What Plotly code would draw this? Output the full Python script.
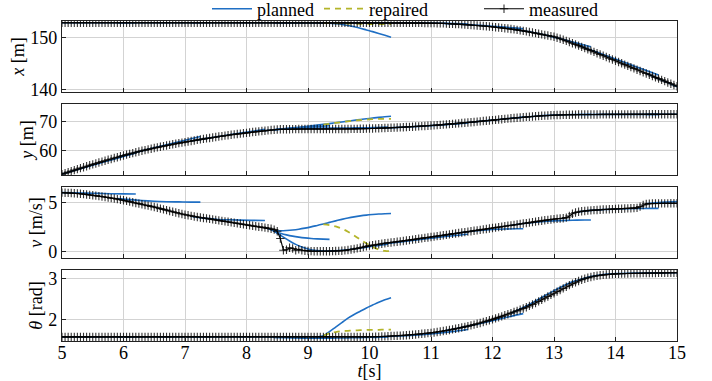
import numpy as np
import plotly.graph_objects as go
from plotly.subplots import make_subplots

# ---------------- data ----------------
meas_t = np.round(np.linspace(5.0, 15.0, 201), 2)

meas_x = [
    152.78, 152.78, 152.78, 152.78, 152.78, 152.78, 152.78, 152.78, 152.78, 152.78,
    152.78, 152.78, 152.78, 152.78, 152.78, 152.78, 152.78, 152.78, 152.78, 152.78,
    152.78, 152.78, 152.78, 152.78, 152.78, 152.78, 152.78, 152.78, 152.78, 152.78,
    152.78, 152.78, 152.78, 152.78, 152.78, 152.78, 152.78, 152.78, 152.78, 152.78,
    152.78, 152.78, 152.78, 152.78, 152.78, 152.78, 152.78, 152.78, 152.78, 152.78,
    152.78, 152.78, 152.78, 152.78, 152.78, 152.78, 152.78, 152.78, 152.78, 152.78,
    152.78, 152.78, 152.78, 152.78, 152.78, 152.78, 152.78, 152.78, 152.78, 152.78,
    152.78, 152.78, 152.78, 152.78, 152.78, 152.78, 152.78, 152.78, 152.78, 152.78,
    152.78, 152.78, 152.78, 152.78, 152.78, 152.78, 152.78, 152.78, 152.78, 152.78,
    152.78, 152.78, 152.78, 152.78, 152.78, 152.78, 152.78, 152.78, 152.78, 152.78,
    152.78, 152.78, 152.78, 152.78, 152.78, 152.78, 152.78, 152.78, 152.78, 152.78,
    152.78, 152.78, 152.77, 152.77, 152.76, 152.76, 152.75, 152.74, 152.73, 152.72,
    152.71, 152.70, 152.68, 152.66, 152.64, 152.62, 152.59, 152.56, 152.53, 152.50,
    152.46, 152.42, 152.38, 152.34, 152.29, 152.24, 152.19, 152.14, 152.09, 152.04,
    151.98, 151.92, 151.86, 151.80, 151.73, 151.66, 151.58, 151.50, 151.41, 151.32,
    151.22, 151.12, 151.01, 150.90, 150.79, 150.67, 150.56, 150.45, 150.34, 150.22,
    150.10, 149.92, 149.73, 149.53, 149.32, 149.10, 148.88, 148.65, 148.42, 148.18,
    147.94, 147.70, 147.46, 147.22, 146.98, 146.74, 146.50, 146.26, 146.02, 145.78,
    145.54, 145.30, 145.06, 144.81, 144.57, 144.33, 144.09, 143.84, 143.60, 143.36,
    143.12, 142.88, 142.63, 142.39, 142.15, 141.91, 141.66, 141.42, 141.18, 140.94,
    140.70,
]

meas_y = [
    52.20, 52.54, 52.88, 53.21, 53.54, 53.87, 54.20, 54.52, 54.84, 55.16,
    55.48, 55.79, 56.10, 56.41, 56.71, 57.01, 57.31, 57.61, 57.90, 58.19,
    58.48, 58.75, 59.02, 59.28, 59.54, 59.79, 60.04, 60.28, 60.52, 60.75,
    60.98, 61.20, 61.42, 61.63, 61.84, 62.04, 62.24, 62.43, 62.62, 62.80,
    62.98, 63.17, 63.35, 63.53, 63.71, 63.88, 64.05, 64.22, 64.38, 64.54,
    64.70, 64.85, 65.00, 65.15, 65.29, 65.43, 65.57, 65.70, 65.83, 65.96,
    66.09, 66.22, 66.35, 66.47, 66.59, 66.71, 66.82, 66.93, 67.04, 67.14,
    67.23, 67.28, 67.30, 67.31, 67.32, 67.34, 67.35, 67.36, 67.37, 67.37,
    67.37, 67.37, 67.37, 67.37, 67.37, 67.37, 67.37, 67.37, 67.37, 67.37,
    67.38, 67.38, 67.39, 67.40, 67.41, 67.42, 67.44, 67.45, 67.47, 67.50,
    67.53, 67.56, 67.59, 67.63, 67.67, 67.71, 67.75, 67.80, 67.84, 67.89,
    67.94, 67.99, 68.05, 68.10, 68.16, 68.22, 68.28, 68.35, 68.41, 68.48,
    68.55, 68.62, 68.70, 68.78, 68.86, 68.94, 69.02, 69.11, 69.20, 69.29,
    69.38, 69.47, 69.57, 69.66, 69.76, 69.86, 69.96, 70.06, 70.16, 70.26,
    70.36, 70.47, 70.57, 70.68, 70.78, 70.88, 70.98, 71.08, 71.18, 71.27,
    71.36, 71.45, 71.53, 71.61, 71.68, 71.75, 71.82, 71.88, 71.94, 71.99,
    72.04, 72.08, 72.12, 72.15, 72.18, 72.20, 72.22, 72.24, 72.25, 72.26,
    72.27, 72.28, 72.28, 72.29, 72.29, 72.30, 72.30, 72.30, 72.30, 72.31,
    72.31, 72.31, 72.31, 72.32, 72.32, 72.32, 72.32, 72.32, 72.32, 72.33,
    72.33, 72.33, 72.33, 72.33, 72.33, 72.33, 72.33, 72.33, 72.33, 72.33,
    72.33,
]

meas_v = [
    6.02, 6.01, 6.00, 5.98, 5.96, 5.93, 5.90, 5.87, 5.83, 5.79,
    5.75, 5.71, 5.66, 5.62, 5.57, 5.52, 5.46, 5.41, 5.35, 5.29,
    5.23, 5.17, 5.10, 5.03, 4.96, 4.89, 4.82, 4.75, 4.68, 4.61,
    4.54, 4.46, 4.38, 4.30, 4.22, 4.14, 4.06, 3.98, 3.90, 3.82,
    3.75, 3.69, 3.63, 3.57, 3.52, 3.47, 3.42, 3.37, 3.32, 3.27,
    3.22, 3.17, 3.12, 3.07, 3.02, 2.97, 2.92, 2.87, 2.82, 2.77,
    2.72, 2.67, 2.62, 2.57, 2.52, 2.47, 2.42, 2.37, 2.30, 2.22,
    2.05, 1.30, 0.10, 0.15, 0.35, 0.28, 0.10, 0.20, 0.10, 0.05,
    0.02, 0.01, 0.00, 0.00, 0.00, 0.00, 0.00, 0.00, 0.01, 0.02,
    0.03, 0.05, 0.08, 0.12, 0.17, 0.23, 0.29, 0.36, 0.43, 0.50,
    0.57, 0.62, 0.67, 0.72, 0.77, 0.81, 0.85, 0.89, 0.93, 0.97,
    1.01, 1.05, 1.10, 1.14, 1.19, 1.23, 1.28, 1.32, 1.37, 1.41,
    1.46, 1.50, 1.55, 1.59, 1.64, 1.68, 1.73, 1.78, 1.82, 1.87,
    1.92, 1.96, 2.01, 2.05, 2.10, 2.14, 2.19, 2.24, 2.28, 2.33,
    2.38, 2.42, 2.47, 2.51, 2.56, 2.61, 2.65, 2.70, 2.75, 2.80,
    2.85, 2.89, 2.94, 2.99, 3.04, 3.09, 3.13, 3.18, 3.22, 3.26,
    3.30, 3.33, 3.36, 3.39, 3.45, 3.62, 3.85, 3.98, 4.05, 4.10,
    4.14, 4.17, 4.20, 4.22, 4.24, 4.26, 4.28, 4.30, 4.31, 4.33,
    4.34, 4.36, 4.37, 4.39, 4.40, 4.42, 4.43, 4.45, 4.58, 4.75,
    4.86, 4.89, 4.90, 4.91, 4.91, 4.92, 4.92, 4.92, 4.93, 4.93,
    4.93,
]

meas_th = [
    1.57, 1.57, 1.57, 1.57, 1.57, 1.57, 1.57, 1.57, 1.57, 1.57,
    1.57, 1.57, 1.57, 1.57, 1.57, 1.57, 1.57, 1.57, 1.57, 1.57,
    1.57, 1.57, 1.57, 1.57, 1.57, 1.57, 1.57, 1.57, 1.57, 1.57,
    1.57, 1.57, 1.57, 1.57, 1.57, 1.57, 1.57, 1.57, 1.57, 1.57,
    1.57, 1.57, 1.57, 1.57, 1.57, 1.57, 1.57, 1.57, 1.57, 1.57,
    1.57, 1.57, 1.57, 1.57, 1.57, 1.57, 1.57, 1.57, 1.57, 1.57,
    1.57, 1.57, 1.57, 1.57, 1.57, 1.57, 1.57, 1.57, 1.57, 1.57,
    1.57, 1.57, 1.57, 1.57, 1.57, 1.57, 1.57, 1.57, 1.57, 1.57,
    1.57, 1.57, 1.57, 1.57, 1.57, 1.57, 1.57, 1.57, 1.57, 1.57,
    1.57, 1.57, 1.57, 1.57, 1.57, 1.57, 1.57, 1.57, 1.57, 1.57,
    1.570, 1.570, 1.575, 1.578, 1.580, 1.584, 1.588, 1.591, 1.595, 1.598,
    1.602, 1.606, 1.611, 1.617, 1.623, 1.630, 1.638, 1.646, 1.654, 1.662,
    1.670, 1.680, 1.692, 1.704, 1.716, 1.728, 1.741, 1.755, 1.769, 1.784,
    1.800, 1.816, 1.834, 1.852, 1.871, 1.891, 1.912, 1.934, 1.956, 1.978,
    2.000, 2.024, 2.049, 2.074, 2.100, 2.126, 2.153, 2.180, 2.208, 2.237,
    2.268, 2.298, 2.330, 2.365, 2.400, 2.440, 2.480, 2.520, 2.560, 2.600,
    2.640, 2.680, 2.720, 2.760, 2.800, 2.840, 2.875, 2.910, 2.940, 2.970,
    2.995, 3.020, 3.040, 3.055, 3.070, 3.080, 3.090, 3.100, 3.105, 3.110,
    3.115, 3.118, 3.120, 3.123, 3.125, 3.127, 3.129, 3.130, 3.132, 3.133,
    3.135, 3.136, 3.137, 3.138, 3.139, 3.140, 3.140, 3.141, 3.141, 3.142,
    3.142,
]

for _arr in (meas_x, meas_y, meas_v, meas_th):
    if len(_arr) != len(meas_t):
        raise ValueError("length mismatch %d" % len(_arr))

# planned trajectories (one per re-planning instant)
plan1_t = [5.0, 5.2, 5.4, 5.6, 5.8, 6.0, 6.2]
plan1_x = [152.78, 152.78, 152.78, 152.78, 152.78, 152.78, 152.78]
plan1_y = [52.2, 53.4, 54.6, 55.8, 56.98, 58.16, 59.34]
plan1_v = [6.02, 6.0, 5.97, 5.94, 5.91, 5.89, 5.88]
plan1_th = [1.57, 1.57, 1.57, 1.57, 1.57, 1.57, 1.57]

plan2_t = [5.9, 6.1, 6.3, 6.5, 6.7, 6.9, 7.1, 7.25]
plan2_x = [152.78, 152.78, 152.78, 152.78, 152.78, 152.78, 152.78, 152.78]
plan2_y = [57.9, 58.97, 60.02, 61.05, 62.07, 63.09, 64.1, 64.86]
plan2_v = [5.42, 5.3, 5.2, 5.13, 5.09, 5.07, 5.05, 5.05]
plan2_th = [1.57, 1.57, 1.57, 1.57, 1.57, 1.57, 1.57, 1.57]

plan3_t = [7.1, 7.3, 7.5, 7.7, 7.9, 8.1, 8.3]
plan3_x = [152.78, 152.78, 152.78, 152.78, 152.78, 152.78, 152.78]
plan3_y = [63.35, 64.05, 64.72, 65.37, 66.01, 66.64, 67.27]
plan3_v = [3.6, 3.4, 3.29, 3.23, 3.19, 3.17, 3.16]
plan3_th = [1.57, 1.57, 1.57, 1.57, 1.57, 1.57, 1.57]

plan4_t = [8.3, 8.4, 8.5, 8.6, 8.7, 8.8, 8.9, 9.0, 9.1, 9.2, 9.3,
           9.4, 9.5, 9.6, 9.7, 9.8, 9.9, 10.0, 10.1, 10.2, 10.3]
plan4_x = [152.78, 152.78, 152.78, 152.78, 152.78, 152.78, 152.78, 152.78, 152.78, 152.78, 152.78,
           152.78, 152.78, 152.78, 152.78, 152.78, 152.78, 152.78, 152.78, 152.78, 152.78]
plan4_y = [66.82, 67.04, 67.22, 67.37, 67.5, 67.58, 67.64, 67.67, 67.69, 67.7, 67.7,
           67.7, 67.71, 67.72, 67.74, 67.76, 67.79, 67.83, 67.88, 67.94, 68.01]
plan4_v = [2.4, 2.2, 1.85, 1.45, 1.05, 0.7, 0.42, 0.22, 0.1, 0.04, 0.02,
           0.03, 0.07, 0.13, 0.2, 0.28, 0.37, 0.46, 0.55, 0.64, 0.73]
plan4_th = [1.57, 1.565, 1.56, 1.555, 1.55, 1.545, 1.54, 1.54, 1.54, 1.54, 1.54,
            1.54, 1.545, 1.545, 1.55, 1.55, 1.555, 1.56, 1.56, 1.565, 1.57]

plan5_t = [8.45, 8.55, 8.65, 8.75, 8.85, 8.95, 9.05, 9.15, 9.25, 9.35]
plan5_x = [152.78, 152.78, 152.78, 152.78, 152.78, 152.78, 152.78, 152.78, 152.78, 152.78]
plan5_y = [67.14, 67.33, 67.51, 67.67, 67.82, 67.96, 68.09, 68.22, 68.34, 68.46]
plan5_v = [2.05, 1.85, 1.68, 1.55, 1.45, 1.37, 1.31, 1.27, 1.24, 1.22]
plan5_th = [1.57, 1.57, 1.57, 1.57, 1.57, 1.57, 1.57, 1.57, 1.57, 1.57]

plan6_t = [8.45, 8.55, 8.65, 8.75, 8.85, 8.95, 9.05, 9.15, 9.25, 9.35,
           9.45, 9.55, 9.65, 9.75, 9.85, 9.95, 10.05, 10.15, 10.25, 10.35]
plan6_x = [152.78, 152.78, 152.78, 152.78, 152.78, 152.78, 152.77, 152.76, 152.74, 152.7,
           152.6, 152.45, 152.25, 152.0, 151.72, 151.4, 151.08, 150.74, 150.38, 150.0]
plan6_y = [67.14, 67.34, 67.55, 67.76, 67.98, 68.2, 68.44, 68.68, 68.94, 69.2,
           69.48, 69.76, 70.04, 70.31, 70.58, 70.83, 71.07, 71.3, 71.5, 71.7]
plan6_v = [2.1, 2.1, 2.13, 2.18, 2.26, 2.37, 2.5, 2.65, 2.8, 2.96,
           3.12, 3.27, 3.41, 3.53, 3.63, 3.71, 3.77, 3.82, 3.85, 3.87]
plan6_th = [1.56, 1.56, 1.56, 1.56, 1.56, 1.56, 1.56, 1.57, 1.6, 1.7,
            1.81, 1.92, 2.03, 2.12, 2.2, 2.28, 2.35, 2.42, 2.48, 2.53]

plan7_t = [10.2, 10.4, 10.6, 10.8, 11.0, 11.2, 11.4, 11.6]
plan7_x = [152.78, 152.78, 152.77, 152.75, 152.72, 152.67, 152.61, 152.53]
plan7_y = [67.67, 67.84, 68.04, 68.26, 68.51, 68.79, 69.09, 69.41]
plan7_v = [0.75, 0.88, 1.03, 1.18, 1.33, 1.48, 1.62, 1.74]
plan7_th = [1.575, 1.585, 1.6, 1.62, 1.645, 1.675, 1.71, 1.75]

plan8_t = [11.2, 11.4, 11.6, 11.8, 12.0, 12.2, 12.4, 12.5]
plan8_x = [152.64, 152.54, 152.42, 152.27, 152.11, 151.93, 151.74, 151.64]
plan8_y = [68.86, 69.2, 69.57, 69.97, 70.36, 70.78, 71.18, 71.38]
plan8_v = [1.62, 1.82, 2.0, 2.14, 2.23, 2.28, 2.3, 2.3]
plan8_th = [1.716, 1.77, 1.83, 1.9, 1.97, 2.04, 2.11, 2.14]

plan9_t = [12.3, 12.5, 12.7, 12.9, 13.1, 13.3, 13.5, 13.6]
plan9_x = [151.58, 151.24, 150.82, 150.32, 149.74, 149.12, 148.5, 148.18]
plan9_y = [70.98, 71.36, 71.7, 71.97, 72.15, 72.25, 72.29, 72.3]
plan9_v = [2.65, 2.84, 2.98, 3.08, 3.14, 3.18, 3.2, 3.2]
plan9_th = [2.15, 2.29, 2.45, 2.62, 2.78, 2.92, 3.01, 3.04]

plan10_t = [13.4, 13.6, 13.8, 14.0, 14.2, 14.4, 14.6, 14.7]
plan10_x = [148.42, 147.6, 146.75, 145.88, 145.0, 144.13, 143.25, 142.81]
plan10_y = [72.25, 72.28, 72.3, 72.31, 72.31, 72.32, 72.32, 72.32]
plan10_v = [4.05, 4.2, 4.28, 4.33, 4.37, 4.39, 4.4, 4.4]
plan10_th = [2.96, 3.05, 3.1, 3.12, 3.13, 3.135, 3.14, 3.14]

plan11_t = [14.5, 14.6, 14.7, 14.8, 14.9, 15.0]
plan11_x = [143.12, 142.63, 142.13, 141.63, 141.12, 140.61]
plan11_y = [72.32, 72.32, 72.32, 72.33, 72.33, 72.33]
plan11_v = [4.88, 4.95, 5.0, 5.04, 5.07, 5.1]
plan11_th = [3.135, 3.137, 3.138, 3.14, 3.141, 3.142]

# repaired trajectory
rep_t = [9.25, 9.35, 9.45, 9.55, 9.65, 9.75, 9.85, 9.95, 10.05, 10.15, 10.25, 10.35]
rep_x = [152.75, 152.72, 152.69, 152.65, 152.62, 152.59, 152.56, 152.54, 152.53, 152.52, 152.52, 152.52]
rep_y = [68.83, 69.12, 69.42, 69.7, 69.96, 70.2, 70.4, 70.57, 70.7, 70.78, 70.8, 70.8]
rep_v = [2.75, 2.68, 2.55, 2.32, 2.0, 1.62, 1.2, 0.8, 0.45, 0.18, 0.03, 0.0]
rep_th = [1.6, 1.66, 1.69, 1.71, 1.72, 1.73, 1.735, 1.74, 1.745, 1.745, 1.75, 1.75]

y_titles = ["<i>x</i> [m]", "<i>y</i> [m]", "<i>v</i> [m/s]", "<i>θ</i> [rad]"]
y_ranges = [[139.6, 153.1], [51.9, 75.8], [-0.7, 6.6], [1.47, 3.21]]
y_ticks = [[140, 150], [60, 70], [0, 5], [2, 3]]
x_ticks = [5, 6, 7, 8, 9, 10, 11, 12, 13, 14, 15]

plan_t = [plan1_t, plan2_t, plan3_t, plan4_t, plan5_t, plan6_t,
          plan7_t, plan8_t, plan9_t, plan10_t, plan11_t]
plan_vals = [
    [plan1_x, plan2_x, plan3_x, plan4_x, plan5_x, plan6_x, plan7_x, plan8_x, plan9_x, plan10_x, plan11_x],
    [plan1_y, plan2_y, plan3_y, plan4_y, plan5_y, plan6_y, plan7_y, plan8_y, plan9_y, plan10_y, plan11_y],
    [plan1_v, plan2_v, plan3_v, plan4_v, plan5_v, plan6_v, plan7_v, plan8_v, plan9_v, plan10_v, plan11_v],
    [plan1_th, plan2_th, plan3_th, plan4_th, plan5_th, plan6_th, plan7_th, plan8_th, plan9_th, plan10_th, plan11_th],
]
rep_vals = [rep_x, rep_y, rep_v, rep_th]
meas_vals = [meas_x, meas_y, meas_v, meas_th]

# ---------------- figure ----------------
BLUE = "#1f6fc4"
OLIVE = "#b4b52a"
FONT = "Liberation Serif"
FS = 18

fig = make_subplots(rows=4, cols=1, shared_xaxes=True, vertical_spacing=0.0375)


def joined(ts, vs):
    xs, ys = [], []
    for t, v in zip(ts, vs):
        xs += list(t) + [None]
        ys += list(v) + [None]
    return xs, ys


for i in range(4):
    row = i + 1
    px, py = joined(plan_t, plan_vals[i])
    fig.add_trace(go.Scatter(
        x=px, y=py, mode="lines", name="planned",
        line=dict(color=BLUE, width=1.6, shape="spline"),
        showlegend=(i == 0), legend="legend", connectgaps=False,
    ), row=row, col=1)
    fig.add_trace(go.Scatter(
        x=rep_t, y=rep_vals[i], mode="lines", name="repaired",
        line=dict(color=OLIVE, width=1.8, dash="6px,5px", shape="spline"),
        showlegend=(i == 0), legend="legend2",
    ), row=row, col=1)
    fig.add_trace(go.Scatter(
        x=meas_t, y=meas_vals[i], mode="lines+markers", name="measured",
        line=dict(color="black", width=1.1),
        marker=dict(symbol="cross-thin", size=6, color="black",
                    line=dict(color="rgba(0,0,0,0.8)", width=1.1)),
        showlegend=(i == 0), legend="legend3",
    ), row=row, col=1)

for i in range(4):
    row = i + 1
    fig.update_yaxes(
        row=row, col=1, range=y_ranges[i], tickvals=y_ticks[i],
        title=dict(text=y_titles[i], font=dict(family=FONT, size=FS, color="black"), standoff=0),
        showgrid=True, gridcolor="#d3d3d3", gridwidth=1,
        showline=True, linecolor="#222", linewidth=1.3, mirror=True,
        ticks="inside", ticklen=4, tickcolor="#222",
        tickfont=dict(family=FONT, size=FS, color="black"), zeroline=False,
        automargin=False,
    )
    fig.update_xaxes(
        row=row, col=1, range=[5, 15], tickvals=x_ticks,
        showgrid=True, gridcolor="#d3d3d3", gridwidth=1,
        showline=True, linecolor="#222", linewidth=1.3, mirror=True,
        ticks="inside", ticklen=4, tickcolor="#222",
        tickfont=dict(family=FONT, size=FS, color="black"), zeroline=False,
        showticklabels=(row == 4), automargin=False,
    )

fig.update_xaxes(row=4, col=1, ticklabelstandoff=-5,
                 title=dict(text="<i>t</i>[s]", font=dict(family=FONT, size=FS, color="black"), standoff=6))

leg_common = dict(orientation="h", yanchor="middle", xanchor="left",
                  xref="container", yref="container", y=1 - 9 / 381,
                  font=dict(family=FONT, size=FS, color="black"),
                  bgcolor="rgba(0,0,0,0)", itemwidth=40, tracegroupgap=0)
fig.update_layout(
    width=712, height=381,
    margin=dict(l=62, r=35, t=21, b=40, autoexpand=False),
    paper_bgcolor="white", plot_bgcolor="white",
    font=dict(family=FONT, size=FS, color="black"),
    legend=dict(x=207 / 712, **leg_common),
    legend2=dict(x=319 / 712, **leg_common),
    legend3=dict(x=479 / 712, **leg_common),
)

fig.write_html("out.html", config={"displayModeBar": False},
               post_script="document.body.style.margin='0';")
